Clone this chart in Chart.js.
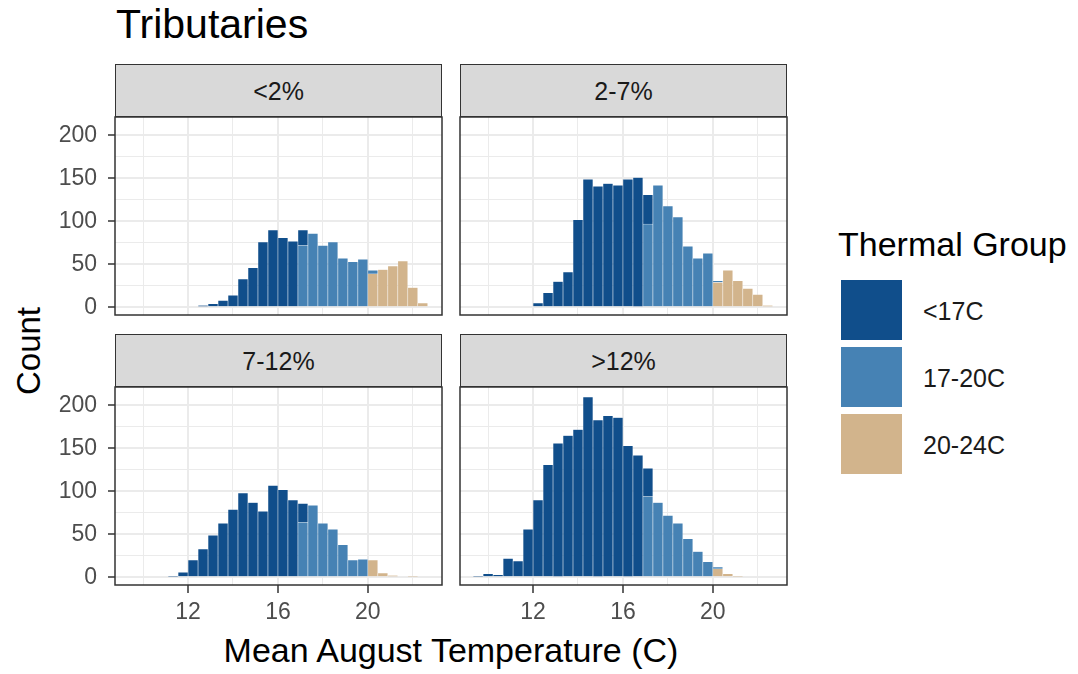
<!DOCTYPE html>
<html>
<head>
<meta charset="utf-8">
<script src="https://cdn.jsdelivr.net/npm/chart.js@4.4.1/dist/chart.umd.min.js"></script>
<style>
  body { margin: 0; width: 1078px; height: 674px; background: #fff; position: relative; overflow: hidden;
         font-family: "Liberation Sans", Arial, sans-serif; }
  .txt { position: absolute; white-space: nowrap; line-height: 1; }
  .strip { position: absolute; box-sizing: border-box; background: #d9d9d9; border: 1.5px solid #333;
           text-align: center; font-size: 25px; color: #1a1a1a; padding-top: 2px; }
  canvas { position: absolute; }
  .key { position: absolute; left: 841px; width: 61px; height: 60px; }
</style>
</head>
<body>

<div class="txt" style="left:116px; top:4px; font-size:41px; color:#000;">Tributaries</div>

<div class="strip" style="left:115px; top:64px; width:327px; height:53px; line-height:49px;">&lt;2%</div>
<div class="strip" style="left:460px; top:64px; width:327px; height:53px; line-height:49px;">2-7%</div>
<div class="strip" style="left:115px; top:334px; width:327px; height:53px; line-height:49px;">7-12%</div>
<div class="strip" style="left:460px; top:334px; width:327px; height:53px; line-height:49px;">&gt;12%</div>

<canvas id="p1" width="390" height="245" style="left:55px; top:115px;"></canvas>
<canvas id="p2" width="390" height="245" style="left:400px; top:115px;"></canvas>
<canvas id="p3" width="390" height="245" style="left:55px; top:385px;"></canvas>
<canvas id="p4" width="390" height="245" style="left:400px; top:385px;"></canvas>

<div class="txt" style="left:451px; top:633px; font-size:34px; color:#000; transform:translateX(-50%);">Mean August Temperature (C)</div>
<div class="txt" style="left:28px; top:351px; font-size:33px; color:#000; transform:translate(-50%,-50%) rotate(-90deg);">Count</div>

<div class="txt" style="left:838px; top:227px; font-size:34px; color:#000;">Thermal Group</div>
<div class="key" style="top:280px; background:#104E8B;"></div>
<div class="key" style="top:347px; background:#4682B4;"></div>
<div class="key" style="top:414px; background:#D2B48C;"></div>
<div class="txt" style="left:923px; top:299px; font-size:25px; color:#1a1a1a;">&lt;17C</div>
<div class="txt" style="left:923px; top:366px; font-size:25px; color:#1a1a1a;">17-20C</div>
<div class="txt" style="left:923px; top:433px; font-size:25px; color:#1a1a1a;">20-24C</div>

<script>
// histogram bin centres (30 bins, width 0.444)
const binCenters = [9.556, 10.000, 10.444, 10.889, 11.333, 11.778, 12.222, 12.667, 13.111, 13.556,
                    14.000, 14.444, 14.889, 15.333, 15.778, 16.222, 16.667, 17.111, 17.556, 18.000,
                    18.444, 18.889, 19.333, 19.778, 20.222, 20.667, 21.111, 21.556, 22.000, 22.444];
const groups = ['<17C', '17-20C', '20-24C'];
const facets = ['<2%', '2-7%', '7-12%', '>12%'];
const xTicks = [10, 12, 14, 16, 18, 20, 22];
const yTicks = [0, 25, 50, 75, 100, 125, 150, 175, 200];

// counts per bin, one array per thermal group and slope class
const coldLt2   = [0,0,0,0,0,0,0,2,4,8,14,33,46,76,90,81,77,18,0,0,0,0,0,0,0,0,0,0,0,0];
const coolLt2   = [0,0,0,0,0,0,0,0,0,0,0,0,0,0,0,0,0,72,86,72,76,57,53,56,4,0,0,0,0,0];
const warmLt2   = [0,0,0,0,0,0,0,0,0,0,0,0,0,0,0,0,0,0,0,0,0,0,0,0,39,44,48,54,23,5];

const cold2to7  = [0,0,0,0,0,0,5,17,30,41,102,149,141,144,142,149,151,34,0,0,0,0,0,0,0,0,0,0,0,0];
const cool2to7  = [0,0,0,0,0,0,0,0,0,0,0,0,0,0,0,0,0,97,142,118,105,71,57,63,2,0,0,0,0,0];
const warm2to7  = [0,0,0,0,0,0,0,0,0,0,0,0,0,0,0,0,0,0,0,0,0,0,0,0,29,43,31,22,15,2];

const cold7to12 = [0,0,0,0,1,6,20,33,49,63,79,98,87,77,107,102,90,22,0,0,0,0,0,0,0,0,0,0,0,0];
const cool7to12 = [0,0,0,0,0,0,0,0,0,0,0,0,0,0,0,0,0,64,84,63,56,38,20,21,0,0,0,0,0,0];
const warm7to12 = [0,0,0,0,0,0,0,0,0,0,0,0,0,0,0,0,0,0,0,0,0,0,0,0,20,5,2,0,1,0];

const coldGt12  = [1,4,3,22,19,56,90,131,156,165,172,210,183,188,186,153,142,33,0,0,0,0,0,0,0,0,0,0,0,0];
const coolGt12  = [0,0,0,0,0,0,0,0,0,0,0,0,0,0,0,0,0,94,87,72,63,45,30,18,2,0,0,0,0,0];
const warmGt12  = [0,0,0,0,0,0,0,0,0,0,0,0,0,0,0,0,0,0,0,0,0,0,0,0,10,4,1,0,0,0];

const colors = { '<17C': '#104E8B', '17-20C': '#4682B4', '20-24C': '#D2B48C' };
const FONT = 'Liberation Sans, Arial, sans-serif';

function pts(arr) {
  return binCenters.map((x, i) => ({ x: x, y: arr[i] })).filter(p => p.y > 0);
}

const panelBorder = {
  id: 'panelBorder',
  afterDraw(chart) {
    const a = chart.chartArea, ctx = chart.ctx;
    ctx.save();
    ctx.strokeStyle = '#333';
    ctx.lineWidth = 1.5;
    ctx.strokeRect(a.left, a.top, a.right - a.left, a.bottom - a.top);
    ctx.restore();
  }
};

function makePanel(id, cold, cool, warm, showX, showY) {
  // ggplot stacks the first level on top, so draw warm first
  const datasets = [
    { label: groups[2], data: pts(warm), backgroundColor: colors['20-24C'] },
    { label: groups[1], data: pts(cool), backgroundColor: colors['17-20C'] },
    { label: groups[0], data: pts(cold), backgroundColor: colors['<17C'] }
  ].map(d => Object.assign(d, {
    barPercentage: 1, categoryPercentage: 1,
    borderWidth: 0.6, borderColor: 'rgba(255,255,255,0.18)', borderSkipped: 'start'
  }));

  new Chart(document.getElementById(id), {
    type: 'bar',
    data: { datasets: datasets },
    options: {
      responsive: false,
      devicePixelRatio: 1,
      animation: false,
      layout: { padding: { top: 2, right: 3, left: 0, bottom: 0 } },
      plugins: { legend: { display: false }, tooltip: { enabled: false } },
      scales: {
        x: {
          type: 'linear', min: 8.75, max: 23.3, offset: false, stacked: true,
          afterBuildTicks: s => { s.ticks = xTicks.map(v => ({ value: v })); },
          afterFit: s => { s.height = 45; s.paddingLeft = 0; s.paddingRight = 0; },
          border: { display: false },
          grid: {
            offset: false,
            color: '#ebebeb',
            lineWidth: c => (c.tick && c.tick.value % 4 === 0) ? 2 : 1,
            drawTicks: showX,
            tickLength: 8,
            tickWidth: 1.5,
            tickColor: c => (c.tick && c.tick.value % 4 === 0) ? '#333' : 'rgba(0,0,0,0)'
          },
          ticks: {
            display: showX, autoSkip: false, maxRotation: 0, padding: 6,
            color: '#4d4d4d', font: { family: FONT, size: 23 },
            callback: v => (v % 4 === 0) ? String(v) : ''
          }
        },
        y: {
          type: 'linear', min: -9, max: 221.5, stacked: true,
          afterBuildTicks: s => { s.ticks = yTicks.map(v => ({ value: v })); },
          afterFit: s => { s.width = 60; s.paddingTop = 0; s.paddingBottom = 0; },
          border: { display: false },
          grid: {
            color: '#ebebeb',
            lineWidth: c => (c.tick && c.tick.value % 50 === 0) ? 2 : 1,
            drawTicks: showY,
            tickLength: 7,
            tickWidth: 1.5,
            tickColor: c => (c.tick && c.tick.value % 50 === 0) ? '#333' : 'rgba(0,0,0,0)'
          },
          ticks: {
            display: showY, autoSkip: false, padding: 11,
            color: '#4d4d4d', font: { family: FONT, size: 23 },
            callback: v => (v % 50 === 0) ? String(v) : ''
          }
        }
      }
    },
    plugins: [panelBorder]
  });
}

makePanel('p1', coldLt2, coolLt2, warmLt2, false, true);
makePanel('p2', cold2to7, cool2to7, warm2to7, false, false);
makePanel('p3', cold7to12, cool7to12, warm7to12, true, true);
makePanel('p4', coldGt12, coolGt12, warmGt12, true, false);
</script>
</body>
</html>
